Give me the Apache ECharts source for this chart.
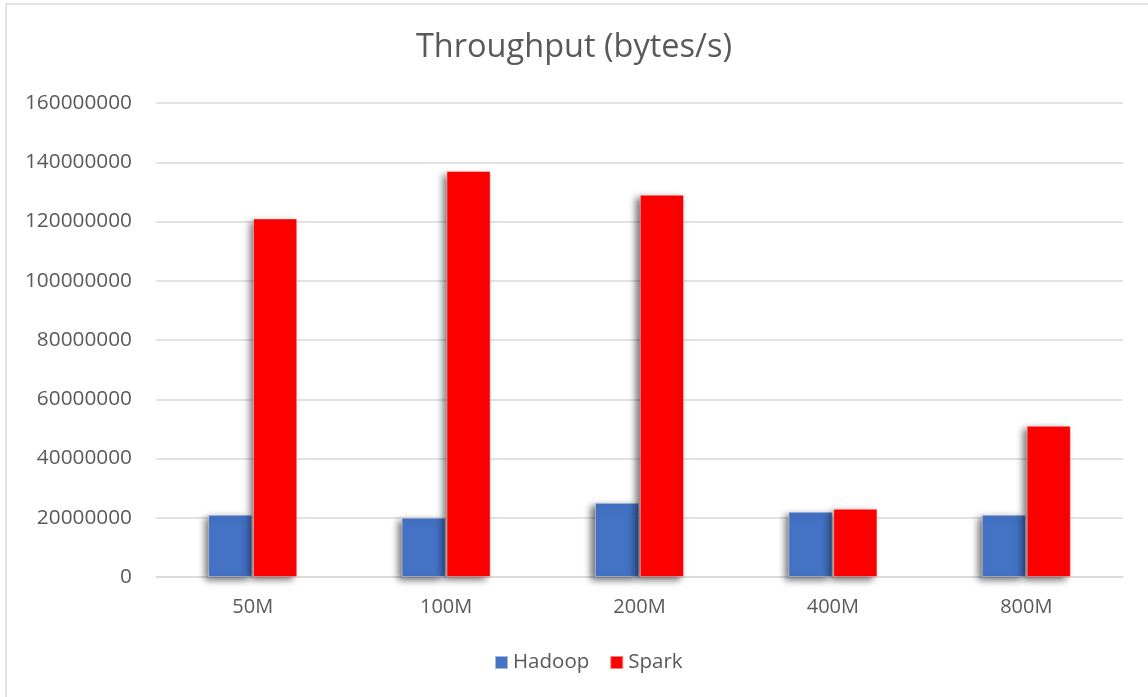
<!DOCTYPE html>
<html>
<head>
<meta charset="utf-8">
<script src="https://cdn.jsdelivr.net/npm/echarts@6/dist/echarts.min.js"></script>
<style>
  html, body { margin: 0; padding: 0; background: #ffffff; }
  #chart { width: 1148px; height: 697px; }
</style>
</head>
<body>
<div id="chart"></div>
<script>
// Input sizes tested
const categories = ['50M', '100M', '200M', '400M', '800M'];
// Throughput in bytes per second
const hadoop = [21000000, 20000000, 25000000, 22000000, 21000000];
const spark = [121000000, 137000000, 129000000, 23000000, 51000000];
const seriesNames = ['Hadoop', 'Spark'];
const titleText = 'Throughput (bytes/s)';

const FONT = 'Open Sans';
const TEXT = '#595959';

const barShadow = {
  shadowColor: 'rgba(0,0,0,0.55)',
  shadowBlur: 7,
  shadowOffsetX: -4,
  shadowOffsetY: 3
};

const chart = echarts.init(document.getElementById('chart'), null, { renderer: 'canvas' });

chart.setOption({
  backgroundColor: '#ffffff',
  animation: false,
  graphic: [{
    type: 'rect',
    shape: { x: 6, y: 4, width: 1160, height: 720 },
    style: { fill: 'none', stroke: '#d9d9d9', lineWidth: 1.5 },
    silent: true
  }],
  title: {
    text: titleText,
    left: 'center',
    top: 26,
    textStyle: { fontFamily: FONT, fontSize: 32.5, fontWeight: 'normal', color: TEXT }
  },
  legend: {
    data: seriesNames,
    bottom: 19,
    left: 489,
    itemWidth: 13,
    itemHeight: 13,
    itemGap: 20,
    icon: 'rect',
    textStyle: { fontFamily: FONT, fontSize: 20.5, color: TEXT }
  },
  grid: { left: 156, right: 25, top: 103, bottom: 120 },
  xAxis: {
    type: 'category',
    data: categories,
    axisLine: { show: true, lineStyle: { color: '#d9d9d9', width: 1.5 } },
    axisTick: { show: false },
    axisLabel: { fontFamily: FONT, fontSize: 20, color: TEXT, margin: 20 }
  },
  yAxis: {
    type: 'value',
    min: 0,
    max: 160000000,
    interval: 20000000,
    axisLine: { show: false },
    axisTick: { show: false },
    splitLine: { lineStyle: { color: '#d9d9d9', width: 1.5 } },
    axisLabel: {
      fontFamily: FONT, fontSize: 20.8, color: TEXT, margin: 24,
      formatter: v => String(v)
    }
  },
  series: [
    {
      name: seriesNames[0],
      type: 'bar',
      data: hadoop,
      barWidth: 44,
      barGap: '2%',
      itemStyle: Object.assign({ color: '#4472C4', borderColor: 'rgba(255,255,255,0.5)', borderWidth: 0.8 }, barShadow)
    },
    {
      name: seriesNames[1],
      type: 'bar',
      data: spark,
      barWidth: 44,
      barGap: '2%',
      itemStyle: Object.assign({ color: '#FF0000', borderColor: 'rgba(255,255,255,0.5)', borderWidth: 0.8 }, barShadow)
    }
  ]
});
</script>
</body>
</html>
